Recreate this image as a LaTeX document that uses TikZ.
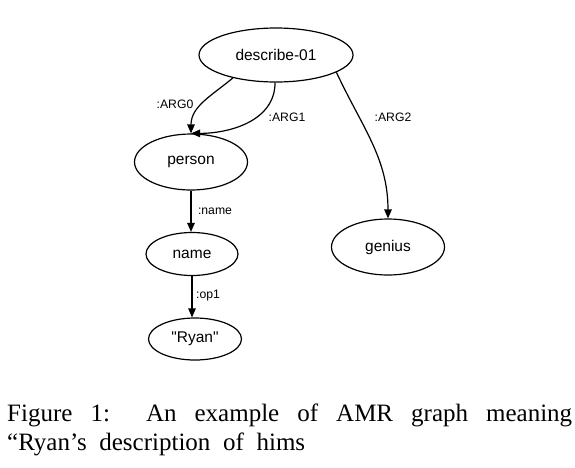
\documentclass[tikz,border=0pt]{standalone}
\usepackage{fontspec}
\setmainfont{Liberation Serif}
\newfontfamily\graphfont{Liberation Sans}
\usetikzlibrary{shapes.geometric,arrows.meta}
\begin{document}
\begin{tikzpicture}[x=1pt,y=-1pt,
  concept/.style={draw,ellipse,line width=1.2pt,inner sep=0pt,font=\graphfont\fontsize{15.5}{18}\selectfont},
  rel/.style={line width=1.2pt,-{Triangle[length=9pt,width=7.5pt]}},
  rlabel/.style={font=\graphfont\fontsize{12.2}{14}\selectfont,inner sep=0pt},
  caption/.style={font=\fontsize{25}{29}\selectfont,inner sep=0pt,anchor=base west}]
\useasboundingbox (0,0) rectangle (575,467);
\node[concept,minimum width=154pt,minimum height=54pt] (d) at (276,55) {describe-01};
\node[concept,minimum width=113pt,minimum height=56pt] (p) at (191,162) {person};
\node[concept,minimum width=92pt,minimum height=43pt] (n) at (192,254) {name};
\node[concept,minimum width=93pt,minimum height=42pt] (r) at (195,339) {"Ryan"};
\node[concept,minimum width=113pt,minimum height=56pt] (g) at (388,247) {genius};
\draw[rel] (d.208) to[out=-140,in=90] (p.north);
\draw[rel] (d.268) to[out=-90,in=0] (p.north);
\draw[rel] (d.-16) to[out=-65,in=90] (g.north);
\draw[rel] (p.south) -- (p.south |- n.north);
\draw[rel] (n.south) -- (n.south |- r.north);
\node[rlabel] (l0) at (175,104) {:ARG0};
\node[rlabel] (l1) at (287,117) {:ARG1};
\node[rlabel] (l2) at (393,117) {:ARG2};
\node[rlabel] (l3) at (215,211) {:name};
\node[rlabel] (l4) at (208,296) {:op1};
\node[caption] (c1) at (7,421) {\makebox[565pt][s]{Figure 1:\ \ An example of AMR graph meaning}};
\node[caption] (c2) at (7,450) {\makebox[298pt][s]{“Ryan’s description of hims}};
\end{tikzpicture}
\end{document}
